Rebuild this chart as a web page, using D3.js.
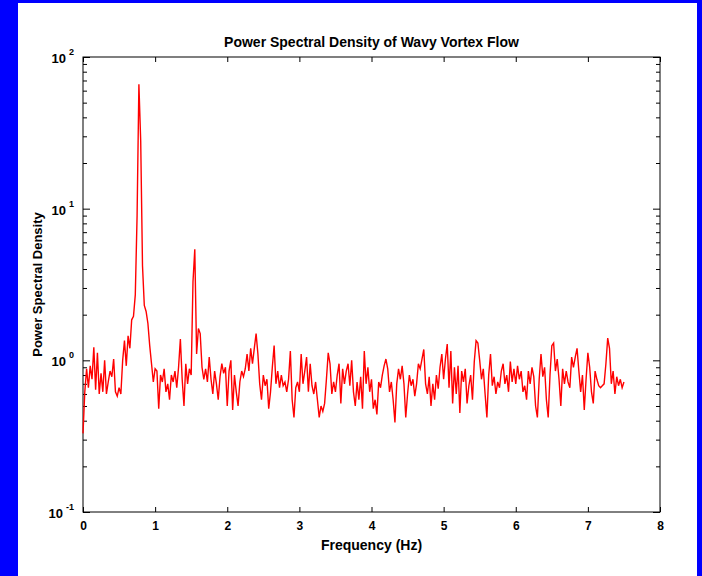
<!DOCTYPE html>
<html>
<head>
<meta charset="utf-8">
<script src="https://cdn.jsdelivr.net/npm/d3@7"></script>
<style>
body { margin: 0; background: #0000ff; }
text { font-family: "Liberation Sans", Arial, Helvetica, sans-serif; font-weight: bold; fill: #000; }
</style>
</head>
<body>
<script>
// chart data
var freqStep = 0.025; // Hz between samples, starting at 0 Hz
var psd = [
  0.33,0.62,0.88,0.66,0.92,0.75,1.22,0.64,1.12,0.60,
  0.82,0.62,1.00,0.60,0.72,0.85,0.78,1.02,0.62,0.58,
  0.66,0.60,1.00,1.35,0.92,1.45,1.20,1.85,1.95,2.70,
  9.0,66,28,4.2,2.3,2.1,1.75,1.25,0.95,0.72,
  0.88,0.85,0.48,0.80,0.72,0.88,0.62,0.70,0.55,0.80,
  0.72,0.85,0.66,0.90,1.38,0.75,0.50,0.95,0.70,0.88,
  0.80,3.3,5.4,1.1,1.62,1.50,0.90,0.75,0.88,0.72,
  1.05,0.75,0.60,0.85,0.70,0.55,0.78,0.95,0.82,0.90,
  0.50,0.85,1.00,0.47,0.80,0.62,0.50,0.72,0.85,0.78,
  0.88,1.10,0.85,1.20,0.95,1.20,1.50,1.10,0.70,0.55,
  0.80,0.68,0.75,0.48,0.62,0.90,1.25,0.70,0.85,0.66,
  0.80,0.68,0.72,0.62,0.75,1.15,0.55,0.42,0.66,0.72,
  0.62,1.10,0.70,0.85,1.05,0.62,0.95,0.68,0.60,0.72,
  0.55,0.42,0.50,0.46,0.52,0.75,1.12,0.95,0.60,0.72,
  0.62,0.80,0.95,0.52,0.88,0.70,0.85,0.95,0.68,1.00,
  0.62,0.50,0.72,0.55,0.78,0.48,1.15,0.70,0.90,0.62,
  0.75,0.48,0.55,0.44,0.72,0.66,0.80,0.92,1.02,0.88,
  0.62,0.72,0.55,0.39,0.70,0.88,0.75,0.92,0.70,0.42,
  0.60,0.80,0.68,0.75,0.58,0.70,0.95,0.88,1.02,1.18,
  0.70,0.60,0.78,0.50,0.70,0.55,0.80,0.65,0.90,1.10,
  0.75,1.02,1.28,0.66,1.15,0.52,0.90,0.60,0.92,0.45,
  0.85,0.72,0.88,0.52,0.68,0.80,0.55,0.98,1.35,1.30,
  1.00,0.75,0.88,0.60,0.42,0.80,1.10,0.68,0.78,0.60,
  0.72,0.66,0.85,0.95,0.70,0.80,0.62,0.98,0.72,0.88,
  0.70,0.92,0.75,0.85,0.62,0.68,0.55,0.85,0.70,0.90,
  0.78,0.50,0.42,0.75,1.10,0.78,0.90,0.55,0.42,0.80,
  1.25,1.30,0.85,1.02,0.75,0.50,0.88,0.70,0.85,0.72,
  0.66,1.05,0.90,1.05,1.20,0.85,0.62,0.80,0.47,0.75,
  1.12,0.90,0.62,0.52,0.85,0.75,0.68,0.66,0.68,0.70,
  0.95,1.40,1.20,0.70,0.85,0.60,0.78,0.68,0.75,0.66,
  0.72
];
var xTicks = [0, 1, 2, 3, 4, 5, 6, 7, 8];
var yMajor = [0.1, 1, 10, 100];
var yExponents = ["-1", "0", "1", "2"];
var yMinor = [];
[0.1, 1, 10].forEach(function(d) {
  for (var k = 2; k <= 9; k++) yMinor.push(d * k);
});
var titleText = "Power Spectral Density of Wavy Vortex Flow";
var xLabelText = "Frequency (Hz)";
var yLabelText = "Power Spectral Density";

var width = 702, height = 576;
// plot box (window.top is taken, so prefix these)
var plotL = 83, plotR = 660, plotT = 57, plotB = 512;

var svg = d3.select("body").append("svg")
  .attr("width", width)
  .attr("height", height)
  .style("display", "block");

// blue border and white page
svg.append("rect").attr("width", width).attr("height", height).attr("fill", "#0000ff");
svg.append("rect").attr("x", 18).attr("y", 3).attr("width", 679).attr("height", height - 3).attr("fill", "#fff");

var x = d3.scaleLinear().domain([0, 8]).range([plotL, plotR]);
var y = d3.scaleLog().domain([0.1, 100]).range([plotB, plotT]);

// ticks, all pointing inward
function ticks(g) {
  g.select(".domain").remove();
  g.selectAll(".tick line").attr("stroke", "#000");
}

svg.append("g").attr("transform", "translate(0," + plotB + ")")
  .call(d3.axisBottom(x).tickValues(xTicks).tickSize(-5).tickSizeOuter(0).tickPadding(9))
  .call(ticks)
  .call(function(g) {
    g.selectAll("text").style("font-size", "12px").attr("fill", "#000");
    g.attr("font-family", null);
  });

svg.append("g").attr("transform", "translate(0," + plotT + ")")
  .call(d3.axisTop(x).tickValues(xTicks).tickSize(-5).tickSizeOuter(0).tickFormat(""))
  .call(ticks);

svg.append("g").attr("transform", "translate(" + plotL + ",0)")
  .call(d3.axisLeft(y).tickValues(yMajor).tickSize(-7).tickSizeOuter(0).tickFormat(""))
  .call(ticks);
svg.append("g").attr("transform", "translate(" + plotL + ",0)")
  .call(d3.axisLeft(y).tickValues(yMinor).tickSize(-4).tickSizeOuter(0).tickFormat(""))
  .call(ticks);
svg.append("g").attr("transform", "translate(" + plotR + ",0)")
  .call(d3.axisRight(y).tickValues(yMajor).tickSize(-7).tickSizeOuter(0).tickFormat(""))
  .call(ticks);
svg.append("g").attr("transform", "translate(" + plotR + ",0)")
  .call(d3.axisRight(y).tickValues(yMinor).tickSize(-4).tickSizeOuter(0).tickFormat(""))
  .call(ticks);

// y tick labels as 10 with exponent
var yLab = svg.append("g").selectAll("text")
  .data(yMajor)
  .enter().append("text")
  .attr("x", plotL - 9)
  .attr("y", function(d) { return y(d) + 6; })
  .attr("text-anchor", "end")
  .style("font-size", "13px");
yLab.append("tspan").text("10");
yLab.append("tspan")
  .attr("dx", 3)
  .attr("dy", -8)
  .style("font-size", "9px")
  .text(function(d, i) { return yExponents[i]; });

// frame
svg.append("rect")
  .attr("x", plotL).attr("y", plotT)
  .attr("width", plotR - plotL).attr("height", plotB - plotT)
  .attr("fill", "none").attr("stroke", "#000").attr("stroke-width", 1);

// spectrum
var line = d3.line()
  .x(function(d, i) { return x(i * freqStep); })
  .y(function(d) { return y(d); });

svg.append("path")
  .datum(psd)
  .attr("d", line)
  .attr("fill", "none")
  .attr("stroke", "#ff0000")
  .attr("stroke-width", 1.4);

// title and axis labels
svg.append("text")
  .attr("x", (plotL + plotR) / 2).attr("y", 47)
  .attr("text-anchor", "middle")
  .style("font-size", "14px")
  .text(titleText);

svg.append("text")
  .attr("x", (plotL + plotR) / 2).attr("y", 550)
  .attr("text-anchor", "middle")
  .style("font-size", "14px")
  .text(xLabelText);

svg.append("text")
  .attr("transform", "translate(42," + ((plotT + plotB) / 2) + ") rotate(-90)")
  .attr("text-anchor", "middle")
  .style("font-size", "13px")
  .text(yLabelText);
</script>
</body>
</html>
